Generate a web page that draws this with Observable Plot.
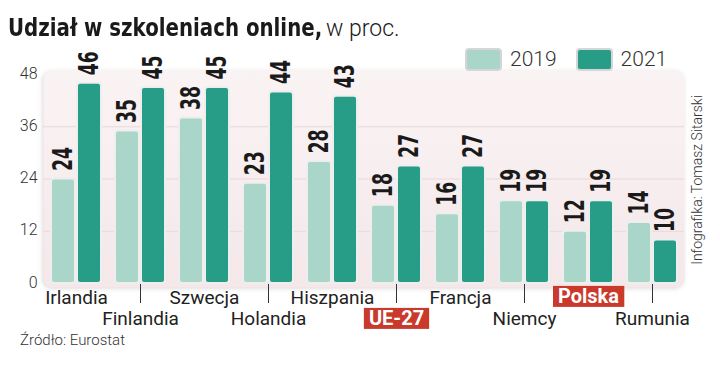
<!DOCTYPE html>
<html><head><meta charset="utf-8">
<script src="https://cdn.jsdelivr.net/npm/d3@7"></script>
<script src="https://cdn.jsdelivr.net/npm/@observablehq/plot@0.6"></script>
<style>
body{margin:0;background:#fff;}
#wrap{position:relative;width:720px;height:368px;overflow:hidden;font-family:Roboto,"Noto Sans",sans-serif;color:#222;}
#wrap svg{position:absolute;left:0;top:0;}
.title{position:absolute;left:8px;top:13px;white-space:nowrap;color:#1a1a1a;line-height:30px;font-family:"DejaVu Sans Condensed",sans-serif;font-weight:700;font-size:25px;transform:scaleX(0.88);transform-origin:0 50%;}
.subtitle{position:absolute;left:326px;top:14px;white-space:nowrap;color:#1a1a1a;line-height:30px;font-weight:300;font-size:23px;}
.legend{position:absolute;top:47px;left:465px;display:flex;align-items:center;font-size:21px;font-weight:300;color:#333;}
.sw{width:33px;height:19px;border-radius:4px;border:2px solid #d6d6d6;margin-right:8px;}
.legend .lab{margin-right:19px;}
.source{position:absolute;left:20px;top:331px;font-size:15px;font-weight:300;color:#333;}
.credit{position:absolute;left:697px;top:180px;transform:translate(-50%,-50%) rotate(-90deg);font-size:14px;font-weight:300;color:#333;white-space:nowrap;}
</style>
</head><body>
<div id="wrap">
  <div class="title">Udział w szkoleniach online,</div>
  <div class="subtitle">w proc.</div>
  <div class="legend" id="legend"></div>
  <div class="source">Źródło: Eurostat</div>
  <div class="credit">Infografika: Tomasz Sitarski</div>
</div>
<script>
const countries = ["Irlandia","Finlandia","Szwecja","Holandia","Hiszpania","UE-27","Francja","Niemcy","Polska","Rumunia"];
const values2019 = [24,35,38,23,28,18,16,19,12,14];
const values2021 = [46,45,45,44,43,27,27,19,19,10];
const years = ["2019","2021"];
const yTicks = [0,12,24,36,48];
const highlighted = ["UE-27","Polska"];
const colors = ["#a9d6c9","#279d87"];

const rows = countries.flatMap((c,i)=>[
  {country:c, year:"2019", value:values2019[i]},
  {country:c, year:"2021", value:values2021[i]}
]);
const narrow = `"DejaVu Sans Condensed",sans-serif`;
const row1 = countries.filter((c,i)=>i%2===0);
const row2 = countries.filter((c,i)=>i%2===1);
const valueText = {x:"country", y:"value", text:d=>String(d.value), rotate:-90, textAnchor:"start", lineAnchor:"middle", dy:-8, fontSize:26, fontWeight:"bold", fontFamily:narrow, fill:"#1a1a1a"};

const plot = Plot.plot({
  width:720, height:368,
  marginLeft:43, marginRight:36, marginTop:70, marginBottom:81,
  x:{domain:countries, range:[50,677], paddingInner:0.22, paddingOuter:0, axis:null},
  y:{domain:[0,48], range:[283,74], axis:null},
  color:{domain:years, range:colors},
  style:{fontFamily:"Roboto, sans-serif", background:"transparent", overflow:"visible"},
  marks:[
    Plot.frame({fill:"url(#panelGrad)", rx:9}),
    Plot.ruleY(yTicks.slice(1,-1), {stroke:"#ead8da", strokeWidth:1}),
    Plot.barY(rows.filter(d=>d.year==="2019"), {x:"country", y:"value", fill:"year", insetRight:26, rx:3, stroke:"#eeeeee", strokeWidth:2}),
    Plot.barY(rows.filter(d=>d.year==="2021"), {x:"country", y:"value", fill:"year", insetLeft:26, rx:3, stroke:"#eeeeee", strokeWidth:2}),
    Plot.text(rows.filter(d=>d.year==="2019"), {...valueText, dx:-13}),
    Plot.text(rows.filter(d=>d.year==="2021"), {...valueText, dx:13}),
    Plot.text(yTicks, {y:d=>d, text:d=>String(d), frameAnchor:"left", textAnchor:"end", dx:-6, dy:-1, fontSize:16, fontWeight:300, fill:"#333"}),
    Plot.ruleX(row2, {x:d=>d, y1:0, y2:0, insetTop:1, insetBottom:-20, stroke:"#333", strokeWidth:1}),
    Plot.text(row1.filter(c=>!highlighted.includes(c)), {x:d=>d, y:0, text:d=>d, lineAnchor:"middle", dy:14, fontSize:19, fill:"#222"}),
    Plot.text(row2.filter(c=>!highlighted.includes(c)), {x:d=>d, y:0, text:d=>d, lineAnchor:"middle", dy:35, fontSize:19, fill:"#222"}),
    Plot.text(row1.filter(c=>highlighted.includes(c)), {x:d=>d, y:0, text:d=>d, lineAnchor:"middle", dy:13, fontSize:20, fontWeight:"bold", fill:"white"}),
    Plot.text(row2.filter(c=>highlighted.includes(c)), {x:d=>d, y:0, text:d=>d, lineAnchor:"middle", dy:35, fontSize:20, fontWeight:"bold", fill:"white"})
  ]
});
const wrap = document.getElementById("wrap");
wrap.insertBefore(plot, wrap.firstChild);

// panel gradient
const ns = "http://www.w3.org/2000/svg";
const defs = document.createElementNS(ns, "defs");
defs.innerHTML = `<linearGradient id="panelGrad" x1="0" y1="0" x2="0" y2="1">
  <stop offset="0" stop-color="#faf3f4"/><stop offset="1" stop-color="#f4e8e9"/></linearGradient>`;
plot.insertBefore(defs, plot.firstChild);
const frameRect = plot.querySelector('[aria-label="frame"]');
if (frameRect) frameRect.style.filter = "drop-shadow(-1px 1px 2px rgba(120,90,95,0.25))";

plot.querySelectorAll("text").forEach(t => {
  // condense the rotated value labels along their length
  if (t.getAttribute("font-family") === narrow || (t.closest("g") && t.closest("g").getAttribute("font-family") === narrow)) {
    const tr = t.getAttribute("transform");
    if (tr && tr.includes("rotate")) t.setAttribute("transform", tr + " scale(0.74,1)");
  }
  // red highlight boxes behind highlighted labels
  if (highlighted.includes(t.textContent)) {
    const b = t.getBBox();
    const r = document.createElementNS(ns, "rect");
    r.setAttribute("x", b.x - 5); r.setAttribute("width", b.width + 10);
    r.setAttribute("y", b.y + 2); r.setAttribute("height", b.height - 3);
    r.setAttribute("fill", "#c9392c");
    const ctm = t.getAttribute("transform");
    if (ctm) r.setAttribute("transform", ctm);
    t.parentNode.insertBefore(r, t);
  }
});

// legend
const legend = document.getElementById("legend");
years.forEach((y,i)=>{
  const sw = document.createElement("div"); sw.className="sw"; sw.style.background = colors[i];
  const lab = document.createElement("span"); lab.className="lab"; lab.textContent = y;
  legend.appendChild(sw); legend.appendChild(lab);
});
</script>
</body></html>
